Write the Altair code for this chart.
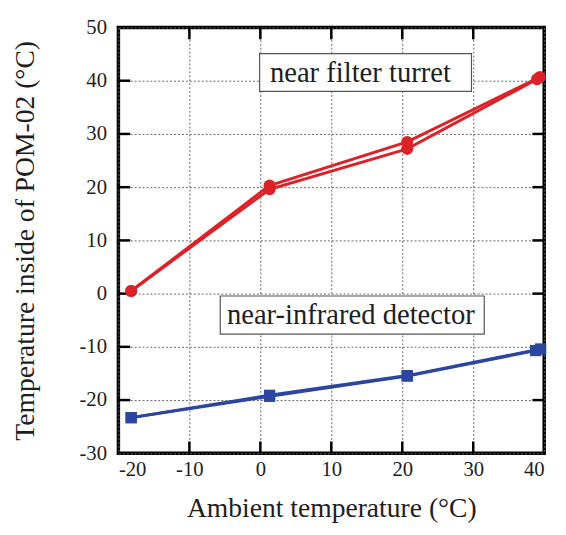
import altair as alt
import pandas as pd

# ---- data ----
red_a_x = [-18.2, 1.3, 20.7, 39.4]
red_a_y = [0.5, 20.3, 28.5, 40.7]
red_b_x = [-18.2, 1.3, 20.7, 39.0]
red_b_y = [0.5, 19.6, 27.2, 40.3]
blue_a_x = [-18.2, 1.3, 20.7, 39.5]
blue_a_y = [-23.3, -19.1, -15.4, -10.4]
blue_b_x = [-18.2, 1.3, 20.7, 38.8]
blue_b_y = [-23.3, -19.3, -15.5, -10.7]

x_ticks = [-20, -10, 0, 10, 20, 30, 40]
y_ticks = [-30, -20, -10, 0, 10, 20, 30, 40, 50]

labels = ["near filter turret", "near-infrared detector"]
label_x = [14.1, 12.75]
label_y = [41.5, -4.0]
box_x1 = [-0.1, -5.65]
box_x2 = [29.75, 31.55]
box_y1 = [38.0, -7.6]
box_y2 = [45.1, -0.45]

W, H = 432, 432
RED = "#dc2229"
BLUE = "#2c46a0"
FONT = "Liberation Serif"
TXT = "#1e1e1e"

red = pd.DataFrame({
    "x": red_a_x + red_b_x,
    "y": red_a_y + red_b_y,
    "run": ["a"] * 4 + ["b"] * 4,
})
blue = pd.DataFrame({
    "x": blue_a_x + blue_b_x,
    "y": blue_a_y + blue_b_y,
    "run": ["a"] * 4 + ["b"] * 4,
})
ann = pd.DataFrame({"label": labels, "x": label_x, "y": label_y,
                    "x1": box_x1, "x2": box_x2, "y1": box_y1, "y2": box_y2})

xs = alt.Scale(domain=[-20, 40], nice=False, zero=False)
ys = alt.Scale(domain=[-30, 50], nice=False, zero=False)

lab_expr = "datum.value < 0 ? '-' + abs(datum.value) : '' + datum.value"
xaxis = alt.Axis(values=x_ticks, title="Ambient temperature (°C)", grid=True,
                 domain=False, ticks=False, labelPadding=6, titlePadding=15,
                 labelExpr=lab_expr)
yaxis = alt.Axis(values=y_ticks, title="Temperature inside of POM-02 (°C)", grid=True,
                 domain=False, ticks=False, labelPadding=12, titlePadding=40,
                 labelExpr=lab_expr)

base_x = alt.X("x:Q", scale=xs, axis=xaxis)
base_y = alt.Y("y:Q", scale=ys, axis=yaxis)

red_layer = alt.Chart(red).mark_line(
    color=RED, strokeWidth=3,
    point=alt.OverlayMarkDef(color=RED, size=150, filled=True, opacity=1)
).encode(x=base_x, y=base_y, detail="run:N")

blue_layer = alt.Chart(blue).mark_line(
    color=BLUE, strokeWidth=3,
    point=alt.OverlayMarkDef(color=BLUE, shape="square", size=130, filled=True, opacity=1)
).encode(x=base_x, y=base_y, detail="run:N")

boxes = alt.Chart(ann).mark_rect(fill="white", stroke="#555555", strokeWidth=1.2).encode(
    x=alt.X("x1:Q", scale=xs, axis=xaxis), x2="x2:Q",
    y=alt.Y("y1:Q", scale=ys, axis=yaxis), y2="y2:Q")

texts = alt.Chart(ann).mark_text(font=FONT, fontSize=29, color=TXT,
                                 align="center", baseline="middle").encode(
    x=alt.X("x:Q", scale=xs, axis=xaxis), y=alt.Y("y:Q", scale=ys, axis=yaxis), text="label:N")

yt = pd.DataFrame({"v": y_ticks[1:-1]})
xt = pd.DataFrame({"v": x_ticks[1:-1]})
tick_style = dict(color="black", strokeWidth=2.5)
yt_left = alt.Chart(yt).mark_rule(**tick_style).encode(
    y=alt.Y("v:Q", scale=ys, axis=yaxis), x=alt.value(0), x2=alt.value(12))
yt_right = alt.Chart(yt).mark_rule(**tick_style).encode(
    y=alt.Y("v:Q", scale=ys, axis=yaxis), x=alt.value(W - 12), x2=alt.value(W))
xt_bottom = alt.Chart(xt).mark_rule(**tick_style).encode(
    x=alt.X("v:Q", scale=xs, axis=xaxis), y=alt.value(H), y2=alt.value(H - 12))
xt_top = alt.Chart(xt).mark_rule(**tick_style).encode(
    x=alt.X("v:Q", scale=xs, axis=xaxis), y=alt.value(0), y2=alt.value(12))

chart = alt.layer(
    yt_left, yt_right, xt_bottom, xt_top, boxes, texts, red_layer, blue_layer
).properties(
    width=W, height=H,
    autosize=alt.AutoSizeParams(type="none"),
    padding={"left": 112, "top": 16, "right": 14, "bottom": 71},
).configure_view(
    stroke="black", strokeWidth=3.5
).configure_axis(
    labelFont=FONT, labelFontSize=21, labelColor=TXT,
    titleFont=FONT, titleFontSize=28, titleFontWeight="normal", titleColor=TXT,
    gridColor="#666666", gridDash=[2, 2], gridWidth=1,
)

chart.save("out.html", embed_options={"renderer": "svg", "actions": False})
